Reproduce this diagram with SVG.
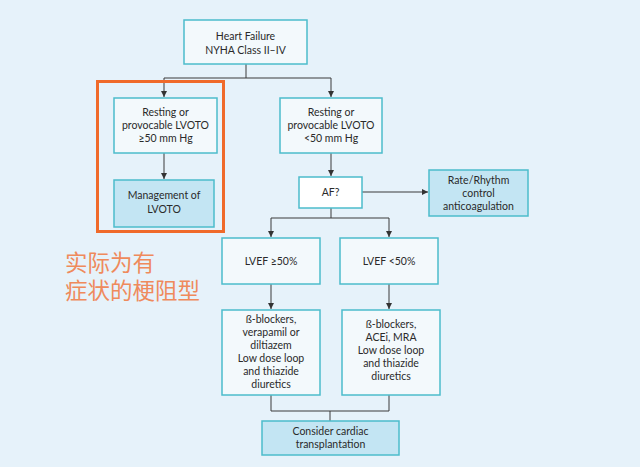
<svg xmlns="http://www.w3.org/2000/svg" width="640" height="467" viewBox="0 0 640 467">
<style>
.box{fill:#f3f9fc;stroke:#4cbccb;stroke-width:1.5}
.fbox{fill:#c3e5f3;stroke:#4cbccb;stroke-width:1.5}
.t{font-family:Lato,"Open Sans",sans-serif;font-size:10.5px;fill:#2a2a2a;text-anchor:middle}
.ln{fill:none;stroke:#3a3a3a;stroke-width:1}
.cn{font-family:"Noto Sans CJK SC",sans-serif;font-size:22.5px;fill:#ef8a5c}
</style>
<defs>
<marker id="ah" viewBox="0 0 8 8" refX="8" refY="4" markerWidth="6" markerHeight="6" orient="auto" markerUnits="userSpaceOnUse">
<path d="M0,0 L8,4 L0,8 z" fill="#333"/>
</marker>
</defs>
<rect x="0" y="0" width="640" height="467" fill="#e6f2fa"/>
<g id="connectors">
<path class="ln" d="M246,64 V78 M164,78 H331"/>
<path class="ln" d="M164,78 V97" marker-end="url(#ah)"/>
<path class="ln" d="M331,78 V97" marker-end="url(#ah)"/>
<path class="ln" d="M164,153 V179" marker-end="url(#ah)"/>
<path class="ln" d="M331,153 V176" marker-end="url(#ah)"/>
<path class="ln" d="M362,192 H428" marker-end="url(#ah)"/>
<path class="ln" d="M331,208 V218 M271,218 H389"/>
<path class="ln" d="M271,218 V237" marker-end="url(#ah)"/>
<path class="ln" d="M389,218 V237" marker-end="url(#ah)"/>
<path class="ln" d="M271,284 V309" marker-end="url(#ah)"/>
<path class="ln" d="M389,284 V309" marker-end="url(#ah)"/>
<path class="ln" d="M271,395 V411 H389 V395 M330,411 V421"/>
</g>
<g id="heart-failure">
<rect class="box" x="184" y="20" width="123" height="44"/>
<text class="t" x="245.5" y="40">Heart Failure</text>
<text class="t" x="245.5" y="54">NYHA Class II–IV</text>
</g>
<g id="lvoto-high">
<rect class="box" x="114" y="98" width="103" height="55"/>
<text class="t" x="165.5" y="116">Resting or</text>
<text class="t" x="165.5" y="129">provocable LVOTO</text>
<text class="t" x="165.5" y="142">≥50 mm Hg</text>
</g>
<g id="management">
<rect class="fbox" x="114" y="180" width="100" height="47"/>
<text class="t" x="164" y="199">Management of</text>
<text class="t" x="164" y="213">LVOTO</text>
</g>
<g id="highlight">
<rect x="97.5" y="81.5" width="126" height="150" fill="none" stroke="#f06a2a" stroke-width="3"/>
</g>
<g id="note">
<text class="cn" x="65" y="271">实际为有</text>
<text class="cn" x="65" y="299">症状的梗阻型</text>
</g>
<g id="lvoto-low">
<rect class="box" x="280" y="98" width="102" height="55"/>
<text class="t" x="331" y="116">Resting or</text>
<text class="t" x="331" y="129">provocable LVOTO</text>
<text class="t" x="331" y="142">&lt;50 mm Hg</text>
</g>
<g id="af">
<rect x="299" y="177" width="63" height="31" fill="#ffffff" stroke="#4cbccb" stroke-width="1.5"/>
<text class="t" x="330.5" y="196">AF?</text>
</g>
<g id="rate">
<rect class="fbox" x="429" y="170" width="99" height="46"/>
<text class="t" x="478.5" y="184">Rate/Rhythm</text>
<text class="t" x="478.5" y="197">control</text>
<text class="t" x="478.5" y="210">anticoagulation</text>
</g>
<g id="lvef-high">
<rect class="box" x="222" y="238" width="98" height="46"/>
<text class="t" x="271" y="265">LVEF ≥50%</text>
</g>
<g id="lvef-low">
<rect class="box" x="340" y="238" width="98" height="46"/>
<text class="t" x="389" y="265">LVEF &lt;50%</text>
</g>
<g id="treat-high">
<rect class="box" x="222" y="310" width="98" height="85"/>
<text class="t" x="271" y="323">ß-blockers,</text>
<text class="t" x="271" y="336">verapamil or</text>
<text class="t" x="271" y="349">diltiazem</text>
<text class="t" x="271" y="362">Low dose loop</text>
<text class="t" x="271" y="375">and thiazide</text>
<text class="t" x="271" y="388">diuretics</text>
</g>
<g id="treat-low">
<rect class="box" x="342" y="310" width="98" height="85"/>
<text class="t" x="391" y="328">ß-blockers,</text>
<text class="t" x="391" y="341">ACEi, MRA</text>
<text class="t" x="391" y="354">Low dose loop</text>
<text class="t" x="391" y="367">and thiazide</text>
<text class="t" x="391" y="380">diuretics</text>
</g>
<g id="transplant">
<rect class="fbox" x="262" y="421" width="137" height="34"/>
<text class="t" x="330.5" y="435">Consider cardiac</text>
<text class="t" x="330.5" y="448">transplantation</text>
</g>
</svg>
